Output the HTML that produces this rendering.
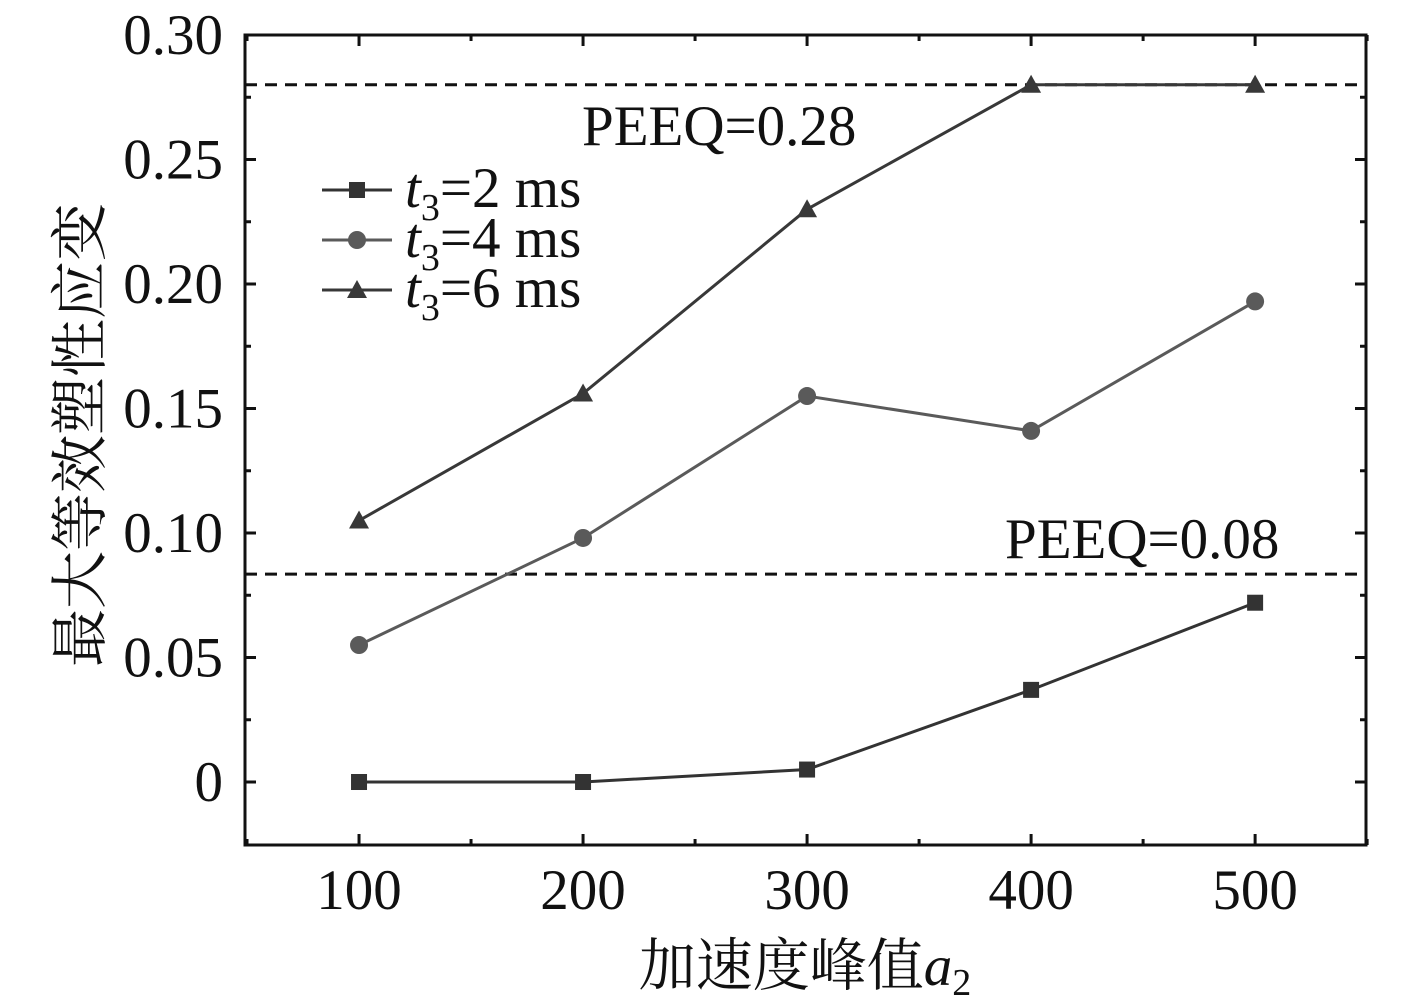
<!DOCTYPE html>
<html><head><meta charset="utf-8"><style>
html,body{margin:0;padding:0;background:#fff;}
svg{display:block;font-family:"Liberation Serif","Noto Serif CJK SC",serif;}
</style></head><body>
<svg id="chart" width="1417" height="1002" viewBox="0 0 1417 1002"></svg>
<script>
const categories=[100,200,300,400,500];
const series2ms=[0,0,0.005,0.037,0.072];
const series4ms=[0.055,0.098,0.155,0.141,0.193];
const series6ms=[0.105,0.156,0.230,0.280,0.280];
const yTicks=[0,0.05,0.10,0.15,0.20,0.25,0.30];
const yTickLabels=["0","0.05","0.10","0.15","0.20","0.25","0.30"];
const thresholds=[0.28,0.0835];
const L=245,R=1366,T=35,B=845;
const xMin=49.1,xMax=549.5,yMin=-0.0253,yMax=0.30;
const FS=57;
const X=v=>L+(v-xMin)/(xMax-xMin)*(R-L);
const Y=v=>B-(v-yMin)/(yMax-yMin)*(B-T);
const svg=document.getElementById('chart');
const NS='http://www.w3.org/2000/svg';
function mk(tag,attrs,parent){const e=document.createElementNS(NS,tag);for(const k in attrs)e.setAttribute(k,attrs[k]);(parent||svg).appendChild(e);return e;}
let fr=mk('rect',{x:L,y:T,width:R-L,height:B-T,fill:'none',stroke:'#111','stroke-width':3});


yTicks.forEach((v,i)=>{
  const y=Y(v);
  let t=mk('line',{x1:L,x2:L+11,y1:y,y2:y,stroke:'#111','stroke-width':3});
  
  
  mk('line',{x1:R,x2:R-11,y1:y,y2:y,stroke:'#111','stroke-width':3});
  let lb=mk('text',{x:L-22,y:y+19,'text-anchor':'end','font-size':FS,fill:'#111'});
  lb.textContent=yTickLabels[i];
  
  
  if(i<yTicks.length-1){const m=Y(v+0.025);
    mk('line',{x1:L,x2:L+6,y1:m,y2:m,stroke:'#111','stroke-width':3});
    mk('line',{x1:R,x2:R-6,y1:m,y2:m,stroke:'#111','stroke-width':3});}
});
categories.forEach((c,i)=>{
  const x=X(c);
  let t=mk('line',{x1:x,x2:x,y1:B,y2:B-11,stroke:'#111','stroke-width':3});
  
  
  mk('line',{x1:x,x2:x,y1:T,y2:T+11,stroke:'#111','stroke-width':3});
  let lb=mk('text',{x:x,y:909,'text-anchor':'middle','font-size':FS,fill:'#111'});
  lb.textContent=String(c);
  
  
});
[50,150,250,350,450,550].forEach(c=>{const x=X(c);
  mk('line',{x1:x,x2:x,y1:B,y2:B-6,stroke:'#111','stroke-width':3});
  mk('line',{x1:x,x2:x,y1:T,y2:T+6,stroke:'#111','stroke-width':3});});
thresholds.forEach(v=>{let d=mk('line',{x1:L,x2:R,y1:Y(v),y2:Y(v),stroke:'#111','stroke-width':3,'stroke-dasharray':'12,8'});
  
  });
let p1=mk('text',{x:582,y:145,'font-size':FS,fill:'#111'});p1.textContent='PEEQ=0.28';


let p2=mk('text',{x:1005,y:558,'font-size':FS,fill:'#111'});p2.textContent='PEEQ=0.08';


function marker(kind,x,y,col,g){
  if(kind==='sq')return mk('rect',{x:x-8,y:y-8,width:16,height:16,fill:col},g);
  if(kind==='ci')return mk('circle',{cx:x,cy:y,r:9,fill:col},g);
  return mk('polygon',{points:`${x},${y-10} ${x+10},${y+8} ${x-10},${y+8}`,fill:col},g);
}
const defs=[[series2ms,'sq','#333','series-2ms'],[series4ms,'ci','#5a5a5a','series-4ms'],[series6ms,'tr','#383838','series-6ms']];
defs.forEach(([vals,kind,col,name])=>{
  const g=mk('g',{});
  
  
  const pl=mk('polyline',{points:vals.map((v,i)=>X(categories[i])+','+Y(v)).join(' '),fill:'none',stroke:col,'stroke-width':3},g);
  
  
  vals.forEach((v,i)=>{const m=marker(kind,X(categories[i]),Y(v),col,g);
    
    });
});
const legVals=['2','4','6'];
defs.forEach(([vals,kind,col,name],i)=>{
  const y=190+i*50;
  const g=mk('g',{});
  
  
  mk('line',{x1:322,x2:392,y1:y,y2:y,stroke:col,'stroke-width':3},g);
  marker(kind,357,y,col,g);
  const t=mk('text',{x:405,y:y+17,'font-size':FS,fill:'#111'},g);
  t.innerHTML=`<tspan font-style="italic">t</tspan><tspan font-size="38" dy="13">3</tspan><tspan dy="-13">=${legVals[i]} ms</tspan>`;
});
let xt=mk('text',{x:805,y:985,'text-anchor':'middle','font-size':FS,fill:'#111'});
xt.innerHTML='加速度峰值<tspan font-style="italic">a</tspan><tspan font-size="38" dy="10">2</tspan>';


let yt=mk('text',{x:0,y:0,'text-anchor':'middle','font-size':58,fill:'#111',transform:'translate(100,435) rotate(-90)'});
yt.textContent='最大等效塑性应变';


</script>
</body></html>
